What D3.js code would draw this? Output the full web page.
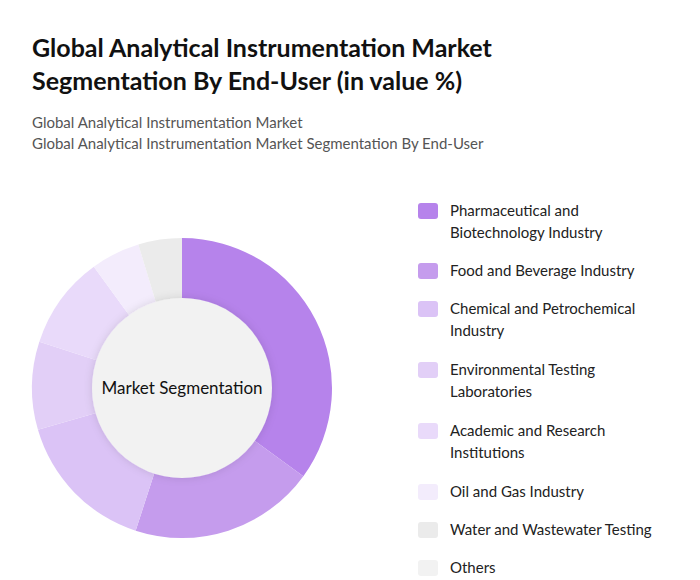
<!DOCTYPE html>
<html>
<head>
<meta charset="utf-8">
<script src="https://cdn.jsdelivr.net/npm/d3@7"></script>
<style>
  body { margin: 0; background: #fff; font-family: Lato, "Open Sans", sans-serif; }
</style>
</head>
<body>
<div id="chart"></div>
<script>
const categories = [
  "Pharmaceutical and Biotechnology Industry",
  "Food and Beverage Industry",
  "Chemical and Petrochemical Industry",
  "Environmental Testing Laboratories",
  "Academic and Research Institutions",
  "Oil and Gas Industry",
  "Water and Wastewater Testing",
  "Others"
];
const legendLines = [
  ["Pharmaceutical and", "Biotechnology Industry"],
  ["Food and Beverage Industry"],
  ["Chemical and Petrochemical", "Industry"],
  ["Environmental Testing", "Laboratories"],
  ["Academic and Research", "Institutions"],
  ["Oil and Gas Industry"],
  ["Water and Wastewater Testing"],
  ["Others"]
];
const values = [35, 20, 15.5, 9.5, 10, 5.3, 4.7, 0];
const colors = ["#b683eb", "#c59ced", "#dbc3f6", "#e2cff7", "#e9dafa", "#f3ecfc", "#ebebeb", "#f2f2f2"];

const width = 700, height = 580;
const svg = d3.select("#chart").append("svg")
  .attr("width", width).attr("height", height);

const defs = svg.append("defs");
const f = defs.append("filter").attr("id", "shadow")
  .attr("x", "-20%").attr("y", "-20%").attr("width", "140%").attr("height", "140%");
f.append("feDropShadow").attr("dx", 0).attr("dy", 0).attr("stdDeviation", 4)
  .attr("flood-color", "#000").attr("flood-opacity", 0.12);

svg.append("text").attr("x", 32).attr("y", 57)
  .attr("font-size", 25).attr("font-weight", 700).attr("fill", "#111")
  .text("Global Analytical Instrumentation Market");
svg.append("text").attr("x", 32).attr("y", 90)
  .attr("font-size", 25).attr("font-weight", 700).attr("fill", "#111")
  .text("Segmentation By End-User (in value %)");
svg.append("text").attr("x", 32).attr("y", 128)
  .attr("font-size", 15).attr("fill", "#555")
  .text("Global Analytical Instrumentation Market");
svg.append("text").attr("x", 32).attr("y", 149)
  .attr("font-size", 15).attr("fill", "#555")
  .text("Global Analytical Instrumentation Market Segmentation By End-User");

const cx = 182, cy = 388, outerR = 150, innerR = 90;
const pie = d3.pie().sort(null).value(d => d)(values);
const arc = d3.arc().innerRadius(innerR - 5).outerRadius(outerR);
const g = svg.append("g").attr("transform", `translate(${cx},${cy})`);
g.selectAll("path").data(pie).enter().append("path")
  .attr("d", arc).attr("fill", (d, i) => colors[i]);
g.append("circle").attr("r", innerR).attr("fill", "#f2f2f2").attr("filter", "url(#shadow)");
g.append("text").attr("text-anchor", "middle").attr("dy", "0.35em")
  .attr("font-size", 17).attr("fill", "#111").text("Market Segmentation");

const legendY = [211, 271, 309, 370, 431, 492, 530, 568];
const lg = svg.append("g");
categories.forEach((c, i) => {
  const row = lg.append("g").attr("transform", `translate(418,${legendY[i]})`);
  row.append("rect").attr("x", 0).attr("y", -8).attr("width", 20).attr("height", 16)
    .attr("rx", 3).attr("fill", colors[i]);
  legendLines[i].forEach((t, j) => {
    row.append("text").attr("x", 32).attr("y", j * 22).attr("dy", "0.35em")
      .attr("font-size", 15).attr("fill", "#222").text(t);
  });
});
</script>
</body>
</html>
